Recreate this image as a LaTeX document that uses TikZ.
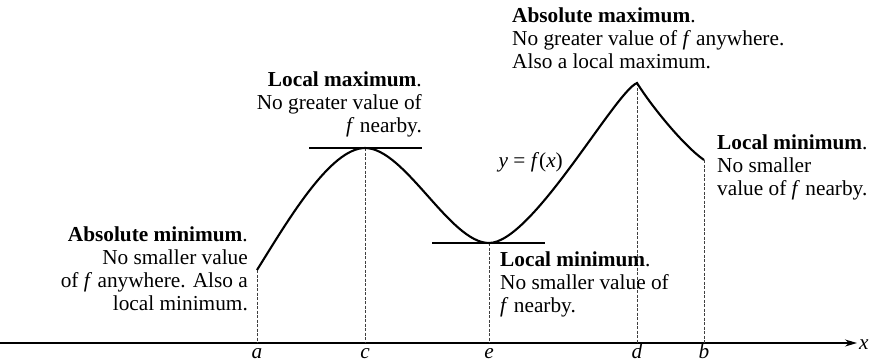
\documentclass[tikz,border=0pt]{standalone}
\usepackage{fontspec}
\setmainfont{Liberation Serif}
\usetikzlibrary{calc,positioning,arrows.meta}

\begin{document}
\begin{tikzpicture}[x=1pt, y=-1pt,
  curve/.style={line width=2.1pt},
  axis/.style={line width=1.3pt, -{Stealth[length=12pt,width=7pt]}},
  tangent/.style={line width=1.1pt},
  guide/.style={line width=0.6pt, black!75, dash pattern=on 3pt off 1.5pt},
  note/.style={inner sep=0pt, font=\fontsize{21.3}{22.7}\selectfont},
  tick/.style={inner sep=0pt, anchor=base, font=\fontsize{21.3}{22.7}\selectfont\itshape}]
\useasboundingbox (0,0) rectangle (869,362);

\coordinate (pa) at (257,270);
\coordinate (pc) at (365,148);
\coordinate (pe) at (489,243);
\coordinate (pd) at (637,83);
\coordinate (pb) at (704,160);
\coordinate (o) at (0,343);
\coordinate (xend) at (857,343);
\coordinate (tc1) at (309,148);
\coordinate (tc2) at (422,148);
\coordinate (te1) at (432,243);
\coordinate (te2) at (545,243);

\node[tick] (la) at (257,358) {a};
\node[tick] (lc) at (365,358) {c};
\node[tick] (le) at (489,358) {e};
\node[tick] (ld) at (637,358) {d};
\node[tick] (lb) at (704,358) {b};
\node[tick, anchor=base west] (lx) at (859,349) {x};

\draw[axis] (o) -- (xend);
\foreach \p in {pa,pc,pe,pd,pb}
  \draw[guide] (\p) -- (\p |- o);
\draw[tangent] (tc1) -- (tc2);
\draw[tangent] (te1) -- (te2);

\draw[curve] (pa) .. controls (287,222) and (330,148) .. (pc)
  .. controls (405,148) and (450,243) .. (pe)
  .. controls (532,243) and (615,92) .. (pd)
  .. controls (652,107) and (684,146) .. (pb);

\node[note, align=right, anchor=base east] (absmin) at (248,310)
  {\textbf{Absolute minimum}.\\No smaller value\\of \textit{f} anywhere. Also a\\local minimum.};
\node[note, align=right, anchor=base east] (locmax) at (422,132)
  {\textbf{Local maximum}.\\No greater value of\\\textit{f} nearby.};
\node[note, align=left, anchor=base west] (absmax) at (512,68)
  {\textbf{Absolute maximum}.\\No greater value of \textit{f} anywhere.\\Also a local maximum.};
\node[note, anchor=base east] (func) at (563,167)
  {\textit{y} = \textit{f}(\textit{x})};
\node[note, align=left, anchor=base west] (locmine) at (500,312)
  {\textbf{Local minimum}.\\No smaller value of\\\textit{f} nearby.};
\node[note, align=left, anchor=base west] (locminb) at (717,195)
  {\textbf{Local minimum}.\\No smaller\\value of \textit{f} nearby.};
\end{tikzpicture}
\end{document}
